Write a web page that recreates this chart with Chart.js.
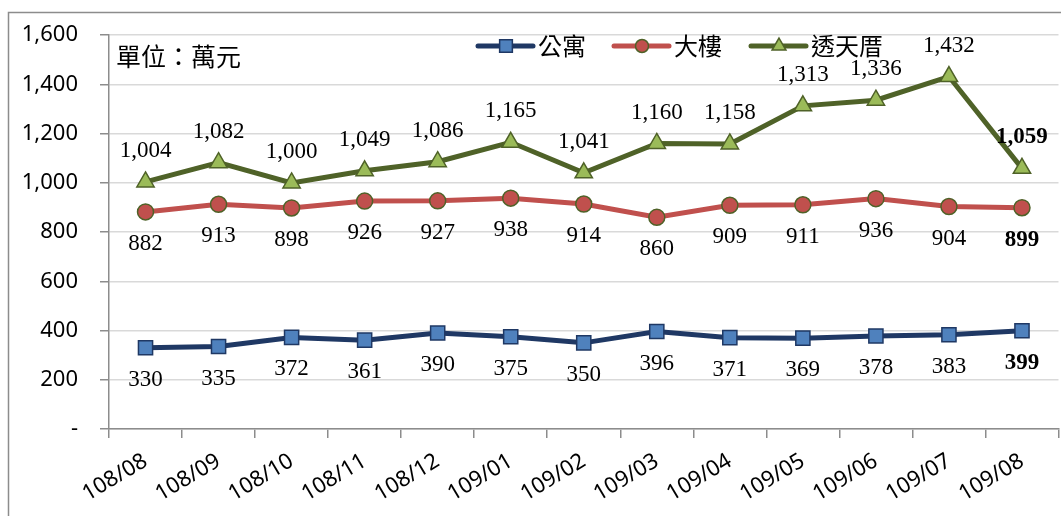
<!DOCTYPE html>
<html>
<head>
<meta charset="utf-8">
<script src="https://cdn.jsdelivr.net/npm/chart.js@4/dist/chart.umd.min.js"></script>
<style>
  html, body { margin: 0; padding: 0; background: #fff; overflow: hidden; }
  #wrap { width: 1070px; height: 516px; position: relative; }
</style>
</head>
<body>
<div id="wrap"><canvas id="c"></canvas></div>
<script>
  // months (ROC calendar)
  const months = ["108/08", "108/09", "108/10", "108/11", "108/12", "109/01", "109/02",
    "109/03", "109/04", "109/05", "109/06", "109/07", "109/08"];
  // 公寓
  const apartment = [330, 335, 372, 361, 390, 375, 350, 396, 371, 369, 378, 383, 399];
  // 大樓
  const building = [882, 913, 898, 926, 927, 938, 914, 860, 909, 911, 936, 904, 899];
  // 透天厝
  const townhouse = [1004, 1082, 1000, 1049, 1086, 1165, 1041, 1160, 1158, 1313, 1336, 1432, 1059];
  const seriesNames = ["公寓", "大樓", "透天厝"];
  const yTicks = [0, 200, 400, 600, 800, 1000, 1200, 1400, 1600];

  const SANS = '"Noto Sans", "Liberation Sans", sans-serif';
  const CJK = '"Noto Sans CJK TC", "Noto Sans", sans-serif';
  const SERIF = '"Liberation Serif", "DejaVu Serif", serif';

  const fmt = v => v.toLocaleString('en-US');

  // labels for each point: above for 透天厝, below for the others.
  // last point label is bold in the original
  const pointLabels = {
    id: 'pointLabels',
    afterDatasetsDraw(chart) {
      const ctx = chart.ctx;
      ctx.save();
      ctx.fillStyle = '#000';
      ctx.textAlign = 'center';
      ctx.textBaseline = 'middle';
      chart.data.datasets.forEach((ds, di) => {
        const meta = chart.getDatasetMeta(di);
        meta.data.forEach((pt, i) => {
          const last = i === ds.data.length - 1;
          ctx.font = (last ? 'bold ' : '') + '23px ' + SERIF;
          let dy = ds.labelPos === 'top' ? -31 : 32;
          ctx.fillText(fmt(ds.data[i]), pt.x, pt.y + dy);
        });
      });
      ctx.restore();
    }
  };

  // legend sits inside the plot, like the excel one
  const insideLegend = {
    id: 'insideLegend',
    afterDraw(chart) {
      const ctx = chart.ctx;
      const xs = [478, 614, 751];
      const y = 46;
      ctx.save();
      chart.data.datasets.forEach((ds, i) => {
        const x0 = xs[i];
        ctx.strokeStyle = ds.borderColor;
        ctx.lineWidth = 5;
        ctx.lineCap = 'round';
        ctx.beginPath();
        ctx.moveTo(x0, y);
        ctx.lineTo(x0 + 55, y);
        ctx.stroke();
        ctx.fillStyle = ds.pointBackgroundColor;
        ctx.strokeStyle = ds.pointBorderColor;
        ctx.lineWidth = 1.5;
        Chart.helpers.drawPoint(ctx, {
          pointStyle: ds.pointStyle,
          radius: ds.legendRadius,
          borderWidth: 1.5
        }, x0 + 28, y);
        ctx.fillStyle = '#000';
        ctx.font = '24px ' + CJK;
        ctx.textBaseline = 'middle';
        ctx.textAlign = 'left';
        ctx.fillText(ds.label, x0 + 60, y);
      });
      ctx.font = '25px ' + CJK;
      ctx.fillText('單位：萬元', 116, 56);
      ctx.restore();
    }
  };

  // thin gray frame around the whole chart (left and top show in the picture)
  const frame = {
    id: 'frame',
    beforeDraw(chart) {
      const ctx = chart.ctx;
      ctx.save();
      ctx.strokeStyle = '#8c8c8c';
      ctx.lineWidth = 1.5;
      ctx.beginPath();
      ctx.moveTo(8.5, 516);
      ctx.lineTo(8.5, 12.5);
      ctx.lineTo(1070, 12.5);
      ctx.stroke();
      ctx.restore();
    }
  };

  new Chart(document.getElementById('c'), {
    type: 'line',
    data: {
      labels: months,
      datasets: [
        {
          label: seriesNames[0], data: apartment, labelPos: 'bottom', legendRadius: 9,
          borderColor: '#1F3864', borderWidth: 5,
          pointStyle: 'rect', pointRadius: 10,
          pointBackgroundColor: '#4F81BD', pointBorderColor: '#1F3864', pointBorderWidth: 1.5
        },
        {
          label: seriesNames[1], data: building, labelPos: 'bottom', legendRadius: 6.5,
          borderColor: '#C0504D', borderWidth: 5,
          pointStyle: 'circle', pointRadius: 8,
          pointBackgroundColor: '#C0504D', pointBorderColor: '#4F6228', pointBorderWidth: 1.5
        },
        {
          label: seriesNames[2], data: townhouse, labelPos: 'top', legendRadius: 8,
          borderColor: '#4F6228', borderWidth: 5,
          pointStyle: 'triangle', pointRadius: 10,
          pointBackgroundColor: '#9BBB59', pointBorderColor: '#4F6228', pointBorderWidth: 1.5
        }
      ]
    },
    options: {
      responsive: true,
      maintainAspectRatio: false,
      animation: false,
      layout: { padding: { left: 9, right: 0, top: 35, bottom: 0 } },
      plugins: { legend: { display: false }, tooltip: { enabled: false } },
      elements: { line: { tension: 0 } },
      scales: {
        x: {
          offset: true,
          grid: { offset: true, drawOnChartArea: false, tickLength: 9, color: '#8c8c8c', lineWidth: 1.5 },
          border: { color: '#8c8c8c', width: 1.5 },
          ticks: {
            minRotation: 31, maxRotation: 31, padding: 10,
            color: '#000', font: { family: SANS, size: 22 }
          },
          afterFit: s => { s.height = 87; }
        },
        y: {
          min: 0, max: 1600,
          afterBuildTicks: s => { s.ticks = yTicks.map(v => ({ value: v })); },
          grid: { color: '#d9d9d9', lineWidth: 1.5, tickLength: 9, tickColor: '#8c8c8c' },
          border: { color: '#8c8c8c', width: 1.5 },
          ticks: {
            padding: 22, color: '#000', font: { family: SANS, size: 22 },
            callback: v => v === 0 ? '-' : fmt(v)
          },
          afterFit: s => { s.width = 100; }
        }
      }
    },
    plugins: [frame, pointLabels, insideLegend]
  });
</script>
</body>
</html>
